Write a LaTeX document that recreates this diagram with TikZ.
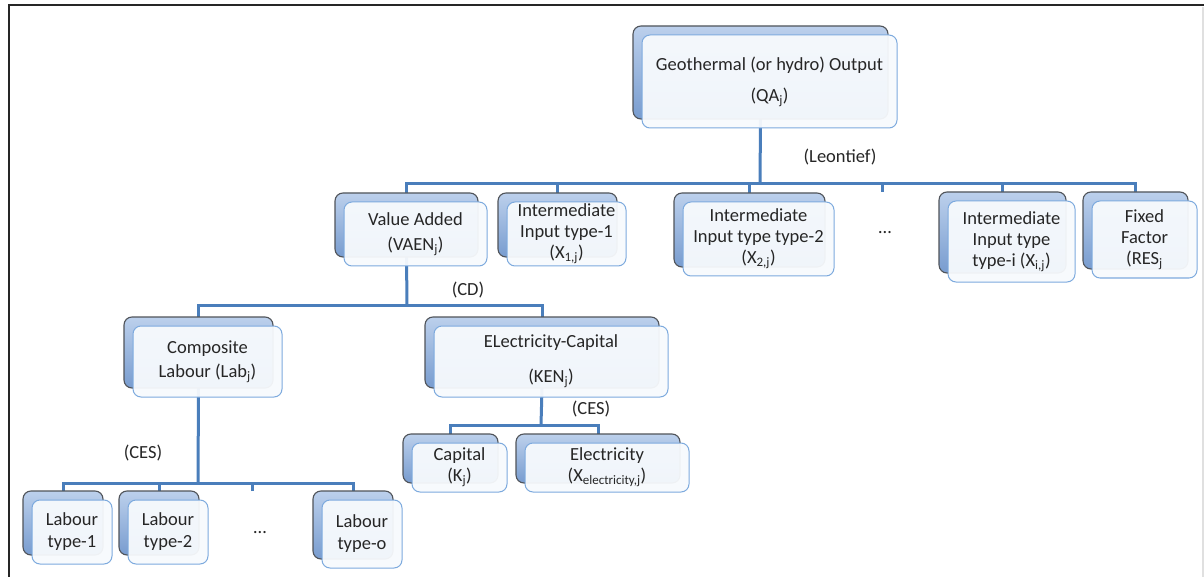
\documentclass[tikz,border=0pt]{standalone}
\usepackage{fontspec}
\setmainfont{Carlito}
\usetikzlibrary{backgrounds}

\definecolor{linkblue}{RGB}{74,126,187}
\definecolor{backtop}{RGB}{188,208,236}
\definecolor{backbot}{RGB}{120,156,207}
\definecolor{backedge}{RGB}{80,84,90}
\definecolor{frontfill}{RGB}{247,250,253}
\definecolor{frontedge}{RGB}{125,170,222}

\tikzset{
  backcard/.style={rounded corners=8pt, top color=backtop, bottom color=backbot,
    draw=backedge, line width=1.1pt, inner sep=0pt, outer sep=0pt},
  frontcard/.style={rounded corners=8pt, fill=frontfill, fill opacity=0.95, text opacity=1,
    draw=frontedge, line width=1pt, inner sep=0pt, outer sep=0pt, align=center,
    font=\fontsize{18.5}{21}\selectfont, text=black!85},
  conn/.style={draw=linkblue, line width=3pt},
  lbl/.style={font=\fontsize{18.5}{21}\selectfont, text=black!85, inner sep=0pt}
}

% #1 name, #2/#3 top-left of the front card, #4 width, #5 height, #6 text
\newcommand\stackcard[6]{%
  \node[backcard, minimum width=#4, minimum height=#5] (#1B) at ({#2-9+#4/2},{#3-9+#5/2}) {};
  \node[frontcard, minimum width=#4, minimum height=#5] (#1) at ({#2+#4/2},{#3+#5/2}) {#6};
}

\begin{document}
\begin{tikzpicture}[x=1pt, y=-1pt]
\useasboundingbox (0,0) rectangle (1204,577);

% frame
\draw[black!85, line width=2.5pt] (8,5) -- (1204,5);
\draw[black!85, line width=2.5pt] (9,5) -- (9,577);
\draw[black!12, line width=2pt] (1203,7) -- (1203,577);

% cards
\stackcard{qa}{642}{35}{255}{93}{Geothermal (or hydro) Output\\[10pt](QA\textsubscript{j})}
\stackcard{va}{344}{202}{143}{64}{Value Added\\[4pt](VAEN\textsubscript{j})}
\stackcard{xa}{507}{202}{119}{64}{Intermediate\\Input type-1\\(X\textsubscript{1,j})}
\stackcard{xb}{683}{202}{151}{74}{Intermediate\\Input type type-2\\(X\textsubscript{2,j})}
\stackcard{xi}{948}{201}{127}{81}{Intermediate\\Input type\\type-i (X\textsubscript{i,j})}
\stackcard{res}{1092}{201}{105}{77}{Fixed\\Factor\\(RES\textsubscript{j}}
\stackcard{lab}{133}{326}{149}{71}{Composite\\[3pt]Labour (Lab\textsubscript{j})}
\stackcard{ken}{434}{326}{234}{71}{ELectricity-Capital\\[14pt](KEN\textsubscript{j})}
\stackcard{cap}{412}{443}{95}{49}{Capital\\(K\textsubscript{j})}
\stackcard{elec}{525}{443}{164}{49}{Electricity\\(X\textsubscript{electricity,j})}
\stackcard{la}{32}{500}{80}{64}{Labour\\[1pt]type-1}
\stackcard{lb}{128}{500}{80}{64}{Labour\\[1pt]type-2}
\stackcard{lo}{322}{500}{80}{68}{Labour\\[1pt]type-o}

% labels and ellipses
\node[lbl] (leontief) at (840,157) {(Leontief)};
\node[lbl] (cd) at (468,290) {(CD)};
\node[lbl] (cesk) at (591,409) {(CES)};
\node[lbl] (cesl) at (143,453) {(CES)};
\node[lbl] (dotsx) at (885,233) {…};
\node[lbl] (dotsl) at (260,533) {…};

% junction points of the trees
\coordinate (j1) at (760,184);
\coordinate (j2) at (407,305);
\coordinate (j3) at (541,425);
\coordinate (j4) at (198,483);
\coordinate (tx) at (882,192);
\coordinate (tl) at (252,491);

\begin{pgfonlayer}{background}
  \fill[white] (0,0) rectangle (1204,577);
  \draw[conn] (qaB.south) -- (j1);
  \draw[conn] (vaB.north) |- (j1);
  \draw[conn] (xaB.north) |- (j1);
  \draw[conn] (xbB.north) |- (j1);
  \draw[conn] (tx) |- (j1);
  \draw[conn] (xiB.north) |- (j1);
  \draw[conn] (resB.north) |- (j1);

  \draw[conn] (vaB.south) -- (j2);
  \draw[conn] (labB.north) |- (j2);
  \draw[conn] (kenB.north) |- (j2);

  \draw[conn] (kenB.south) -- (j3);
  \draw[conn] (capB.north) |- (j3);
  \draw[conn] (elecB.north) |- (j3);

  \draw[conn] (labB.south) -- (j4);
  \draw[conn] (laB.north) |- (j4);
  \draw[conn] (lbB.north) |- (j4);
  \draw[conn] (tl) |- (j4);
  \draw[conn] (loB.north) |- (j4);
\end{pgfonlayer}
\end{tikzpicture}
\end{document}
